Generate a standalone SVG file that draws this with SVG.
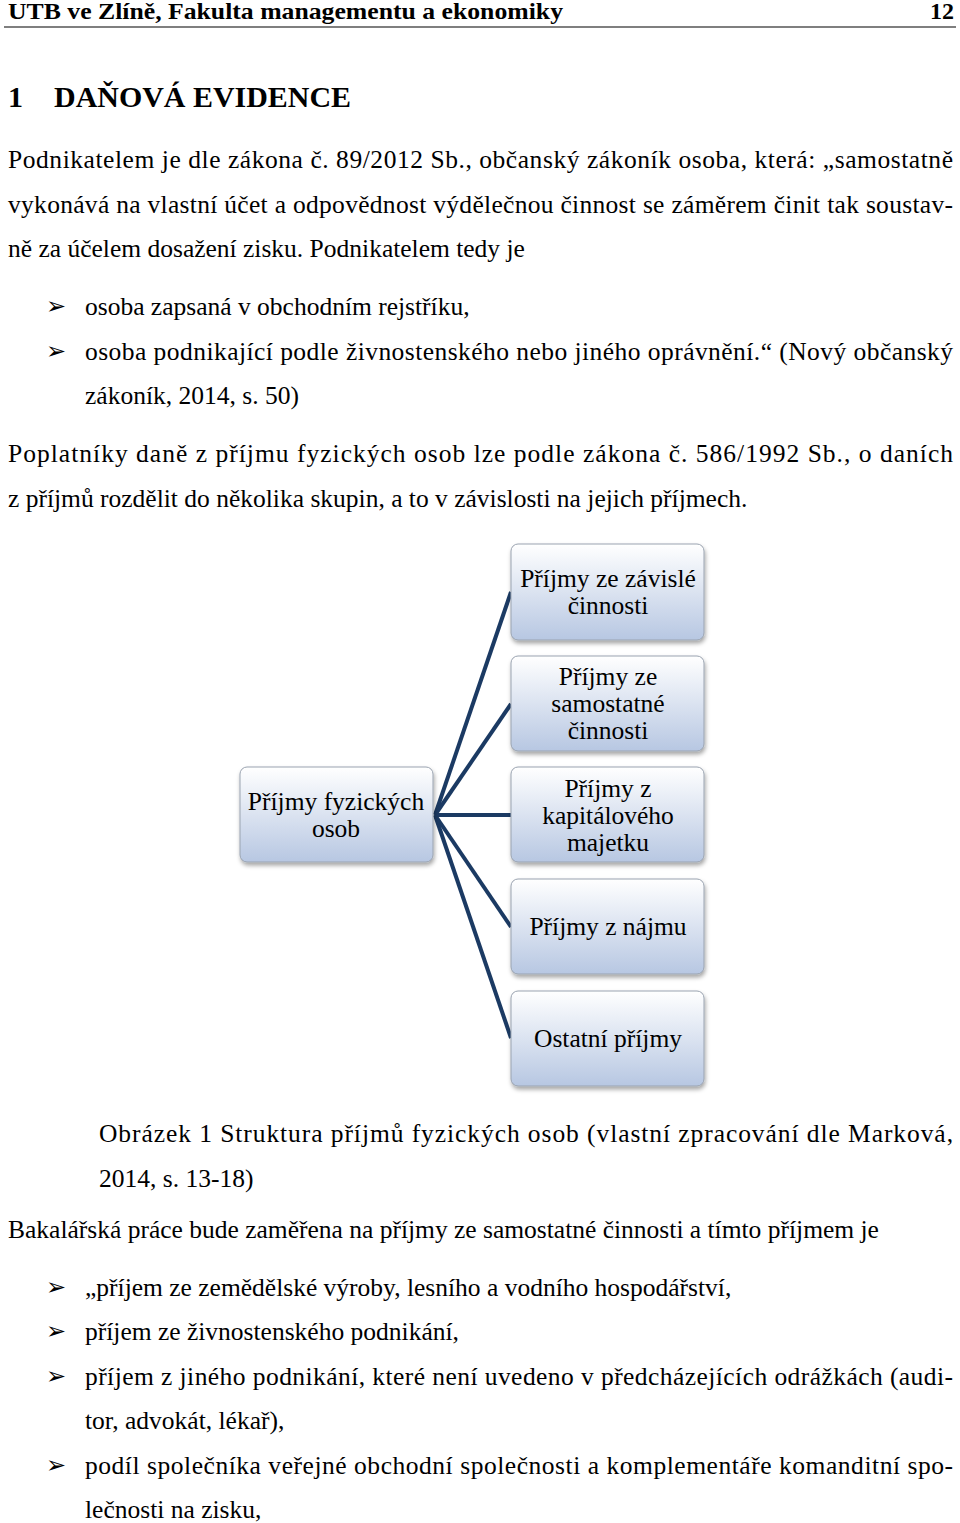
<svg xmlns="http://www.w3.org/2000/svg" width="960" height="1523" viewBox="0 0 960 1523">
<defs>
<linearGradient id="g" x1="0" y1="0" x2="0" y2="1"><stop offset="0" stop-color="#ffffff"/><stop offset="1" stop-color="#b7c7e2"/></linearGradient>
<filter id="sh" x="-10%" y="-10%" width="125%" height="130%"><feDropShadow dx="1" dy="3" stdDeviation="2" flood-color="#000" flood-opacity="0.35"/></filter>
</defs>
<style>
text{font-family:"Liberation Serif","Times New Roman",serif;font-size:25.5px;fill:#000}
.h{font-weight:bold;font-size:24px}
.b{font-family:"DejaVu Sans",sans-serif;font-size:24px}
.n rect{fill:url(#g);stroke:#9aa3b0;stroke-width:1;filter:url(#sh)}
.n text{text-anchor:middle;font-size:25.5px}
.c line{stroke:#1b3a63;stroke-width:4}
</style>
<rect width="960" height="1523" fill="#fff"/>
<text class="h" x="8" y="19" textLength="555" lengthAdjust="spacingAndGlyphs">UTB ve Zlíně, Fakulta managementu a ekonomiky</text>
<text class="h" x="954" y="19" text-anchor="end">12</text>
<line x1="4" y1="27" x2="956" y2="27" stroke="#555" stroke-width="1.5"/>
<text class="h" x="8" y="107" style="font-size:30px">1</text>
<text class="h" x="54" y="107" style="font-size:30px" textLength="297" lengthAdjust="spacingAndGlyphs">DAŇOVÁ EVIDENCE</text>
<text x="8" y="168" textLength="945">Podnikatelem je dle zákona č. 89/2012 Sb., občanský zákoník osoba, která: „samostatně</text>
<text x="8" y="213" textLength="945">vykonává na vlastní účet a odpovědnost výdělečnou činnost se záměrem činit tak soustav-</text>
<text x="8" y="257">ně za účelem dosažení zisku. Podnikatelem tedy je</text>
<text class="b" x="46" y="314">➢</text>
<text x="85" y="315">osoba zapsaná v obchodním rejstříku,</text>
<text class="b" x="46" y="359">➢</text>
<text x="85" y="360" textLength="868">osoba podnikající podle živnostenského nebo jiného oprávnění.“ (Nový občanský</text>
<text x="85" y="404">zákoník, 2014, s. 50)</text>
<text x="8" y="462" textLength="945">Poplatníky daně z příjmu fyzických osob lze podle zákona č. 586/1992 Sb., o daních</text>
<text x="8" y="507">z příjmů rozdělit do několika skupin, a to v závislosti na jejich příjmech.</text>
<g class="c">
<line x1="435" y1="815" x2="511" y2="592"/>
<line x1="435" y1="815" x2="511" y2="704"/>
<line x1="435" y1="815" x2="511" y2="815"/>
<line x1="435" y1="815" x2="511" y2="927"/>
<line x1="435" y1="815" x2="511" y2="1038"/>
</g>
<g class="n" id="root"><rect x="240" y="767" width="193" height="95" rx="7"/><text x="336" y="810">Příjmy fyzických</text><text x="336" y="837">osob</text></g>
<g class="n" id="n1"><rect x="511" y="544" width="193" height="96" rx="7"/><text x="608" y="587">Příjmy ze závislé</text><text x="608" y="614">činnosti</text></g>
<g class="n" id="n2"><rect x="511" y="656" width="193" height="95" rx="7"/><text x="608" y="685">Příjmy ze</text><text x="608" y="712">samostatné</text><text x="608" y="739">činnosti</text></g>
<g class="n" id="n3"><rect x="511" y="767" width="193" height="95" rx="7"/><text x="608" y="797">Příjmy z</text><text x="608" y="824">kapitálového</text><text x="608" y="851">majetku</text></g>
<g class="n" id="n4"><rect x="511" y="879" width="193" height="95" rx="7"/><text x="608" y="935">Příjmy z nájmu</text></g>
<g class="n" id="n5"><rect x="511" y="991" width="193" height="95" rx="7"/><text x="608" y="1047">Ostatní příjmy</text></g>
<text x="99" y="1142" textLength="854">Obrázek 1 Struktura příjmů fyzických osob (vlastní zpracování dle Marková,</text>
<text x="99" y="1187">2014, s. 13-18)</text>
<text x="8" y="1238">Bakalářská práce bude zaměřena na příjmy ze samostatné činnosti a tímto příjmem je</text>
<text class="b" x="46" y="1295">➢</text>
<text x="85" y="1296">„příjem ze zemědělské výroby, lesního a vodního hospodářství,</text>
<text class="b" x="46" y="1339">➢</text>
<text x="85" y="1340">příjem ze živnostenského podnikání,</text>
<text class="b" x="46" y="1384">➢</text>
<text x="85" y="1385" textLength="868">příjem z jiného podnikání, které není uvedeno v předcházejících odrážkách (audi-</text>
<text x="85" y="1429">tor, advokát, lékař),</text>
<text class="b" x="46" y="1473">➢</text>
<text x="85" y="1474" textLength="868">podíl společníka veřejné obchodní společnosti a komplementáře komanditní spo-</text>
<text x="85" y="1518">lečnosti na zisku,</text>
</svg>
